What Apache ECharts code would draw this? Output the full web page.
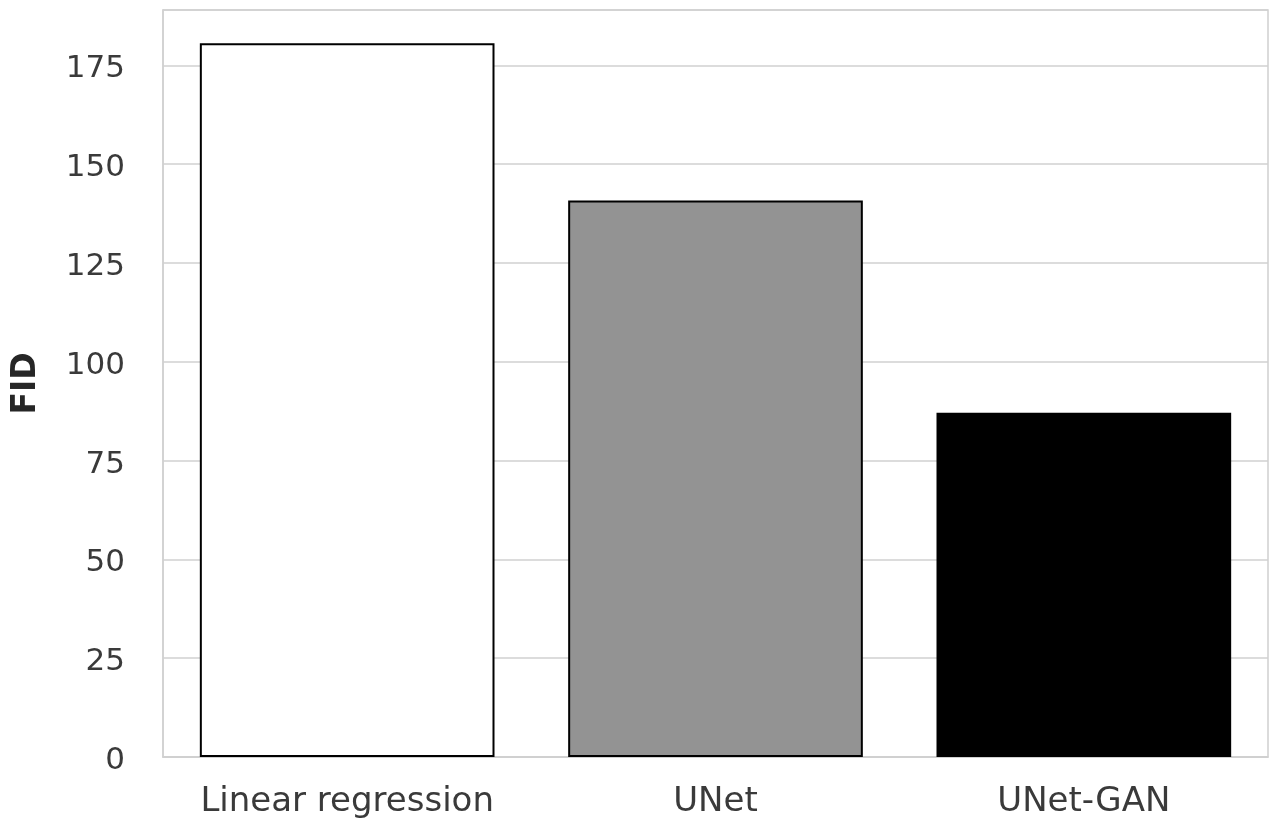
<!DOCTYPE html>
<html><head><meta charset="utf-8">
<script src="https://cdn.jsdelivr.net/npm/echarts@6/dist/echarts.min.js"></script>
<style>html,body{margin:0;padding:0;background:#fff}#c{width:1277px;height:819px}</style>
</head><body><div id="c"></div>
<script>
const categories = ['Linear regression', 'UNet', 'UNet-GAN'];
const fidValues = [180.6, 140.8, 87.1];
const barColors = ['#ffffff', '#939393', '#000000'];
const yTicks = [0, 25, 50, 75, 100, 125, 150, 175];

const chart = echarts.init(document.getElementById('c'));
chart.setOption({
  animation: false,
  backgroundColor: '#ffffff',
  grid: { left: 163, right: 9, top: 10, bottom: 62, show: true, borderColor: '#d0d0d0', borderWidth: 1.5, containLabel: false },
  xAxis: {
    type: 'category', data: categories,
    axisLine: { show: true, lineStyle: { color: '#d0d0d0', width: 1.5 } },
    axisTick: { show: false },
    axisLabel: { interval: 0, fontFamily: 'DejaVu Sans', fontSize: 34, color: '#3a3a3a', margin: 28 }
  },
  yAxis: {
    type: 'value', min: 0, max: 189, interval: 25,
    name: 'FID', nameLocation: 'middle', nameGap: 120, nameRotate: 90,
    nameTextStyle: { fontFamily: 'DejaVu Sans', fontSize: 33, fontWeight: 'bold', color: '#262626' },
    axisLine: { show: true, lineStyle: { color: '#d0d0d0', width: 1.5 } },
    axisTick: { show: false },
    splitLine: { show: true, lineStyle: { color: '#d0d0d0', width: 1.5 } },
    axisLabel: { fontFamily: 'DejaVu Sans', fontSize: 31, color: '#3a3a3a', margin: 38, showMaxLabel: false,
      formatter: v => yTicks.includes(v) ? '{t|' + v + '}' : '',
      rich: { t: { fontFamily: 'DejaVu Sans', fontSize: 31, color: '#3a3a3a', padding: [8, 0, 0, 0] } } }
  },
  series: [{
    type: 'bar', barCategoryGap: '20%',
    data: fidValues.map((v, i) => ({ value: v, itemStyle: { color: barColors[i] } })),
    itemStyle: { borderColor: '#000000', borderWidth: 2 }
  }]
});
</script></body></html>
